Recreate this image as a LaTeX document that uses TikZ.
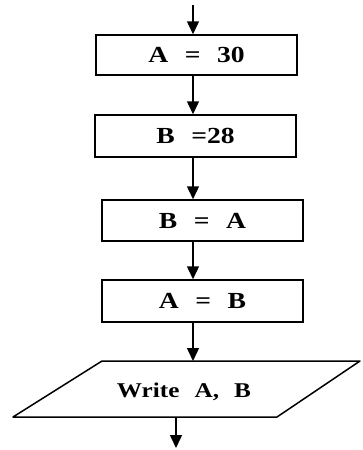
\documentclass[tikz,border=0pt]{standalone}
\usepackage{fontspec}
\setmainfont{Liberation Serif}[FakeStretch=1.2,WordSpace=2.4]
\usetikzlibrary{arrows.meta}
\begin{document}
\begin{tikzpicture}[x=1pt,y=-1pt,
  txt/.style={inner sep=0pt,font=\fontsize{21}{25}\selectfont\bfseries},
  box/.style={inner sep=0pt,font=\fontsize{23}{27}\selectfont\bfseries,draw,line width=1.5pt,minimum width=201pt},
  arr/.style={line width=1.5pt,-{Triangle[width=12pt,length=13pt]}},
  edge/.style={line width=1.5pt,line join=round}]
\useasboundingbox (0,0) rectangle (363,450);
\coordinate (axis) at (193,0);
\coordinate (start) at (193,5);
\node[box,minimum height=40pt] (b1) at (196.5,55) {A = 30};
\node[box,minimum height=42pt] (b2) at (195.5,136) {B =28};
\node[box,minimum height=41pt] (b3) at (202.5,220.5) {B = A};
\node[box,minimum height=42pt] (b4) at (202.5,301) {A = B};
\coordinate (p1) at (102,361);
\coordinate (p2) at (360,361);
\coordinate (p3) at (277,417);
\coordinate (p4) at (13,417);
\draw[edge] (p1) -- (p2) -- (p3) -- (p4) -- cycle;
\node[txt] (w) at (184,392) {Write A, B};
\coordinate (outax) at (176,0);
\coordinate (end) at (176,448);
\draw[arr] (start) -- (b1.north -| axis);
\draw[arr] (b1.south -| axis) -- (b2.north -| axis);
\draw[arr] (b2.south -| axis) -- (b3.north -| axis);
\draw[arr] (b3.south -| axis) -- (b4.north -| axis);
\draw[arr] (b4.south -| axis) -- (axis |- p1);
\draw[arr] (outax |- p4) -- (end);
\end{tikzpicture}
\end{document}
